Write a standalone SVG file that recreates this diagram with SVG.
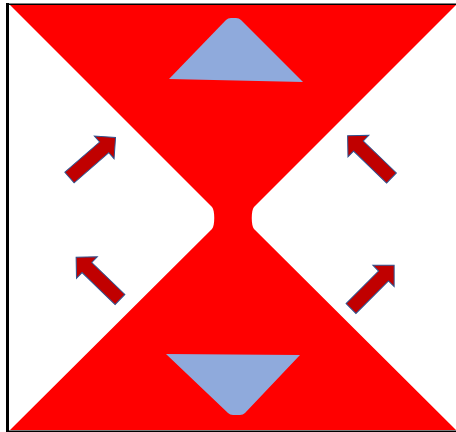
<svg xmlns="http://www.w3.org/2000/svg" width="456" height="432" viewBox="0 0 456 432">
  <style>
    .arrow { fill: #C00000; stroke: #2F528F; stroke-width: 1; stroke-linejoin: miter; }
    .tri { fill: #8FAADC; }
  </style>
  <defs>
    <path id="arr" d="M0,-7 L46,-7 L46,-15 L61,0 L46,15 L46,7 L0,7 Z"/>
  </defs>
  <rect x="0" y="0" width="456" height="432" fill="#FFFFFF"/>
  <g id="hourglass">
    <path d="M10,5 L456,5 L254,207 C251,210 251,226 254,229 L456,430 L10,430 L212,229 C215,226 215,210 212,207 Z" fill="#FF0000"/>
  </g>
  <g id="top-triangle">
    <path class="tri" d="M169,79 L226,20 Q228,18 231,18 L236,18 Q239,18 241,20 L303,82 Z"/>
  </g>
  <g id="bottom-triangle">
    <path class="tri" d="M166,354 L300,355 L245,413 Q243,415 240,415 L233,415 Q230,415 228,413 Z"/>
  </g>
  <g id="frame">
    <rect x="6" y="3" width="3" height="429" fill="#000000"/>
    <rect x="6" y="3.5" width="450" height="1.5" fill="#000000"/>
    <rect x="6" y="430.5" width="450" height="1.5" fill="#000000"/>
  </g>
  <g id="arrows">
    <use href="#arr" class="arrow" transform="translate(69.5,177.5) rotate(-41)"/>
    <use href="#arr" class="arrow" transform="translate(120,299.5) rotate(-136)"/>
    <use href="#arr" class="arrow" transform="translate(391.5,178) rotate(-136)"/>
    <use href="#arr" class="arrow" transform="translate(351,308.5) rotate(-45)"/>
  </g>
</svg>
